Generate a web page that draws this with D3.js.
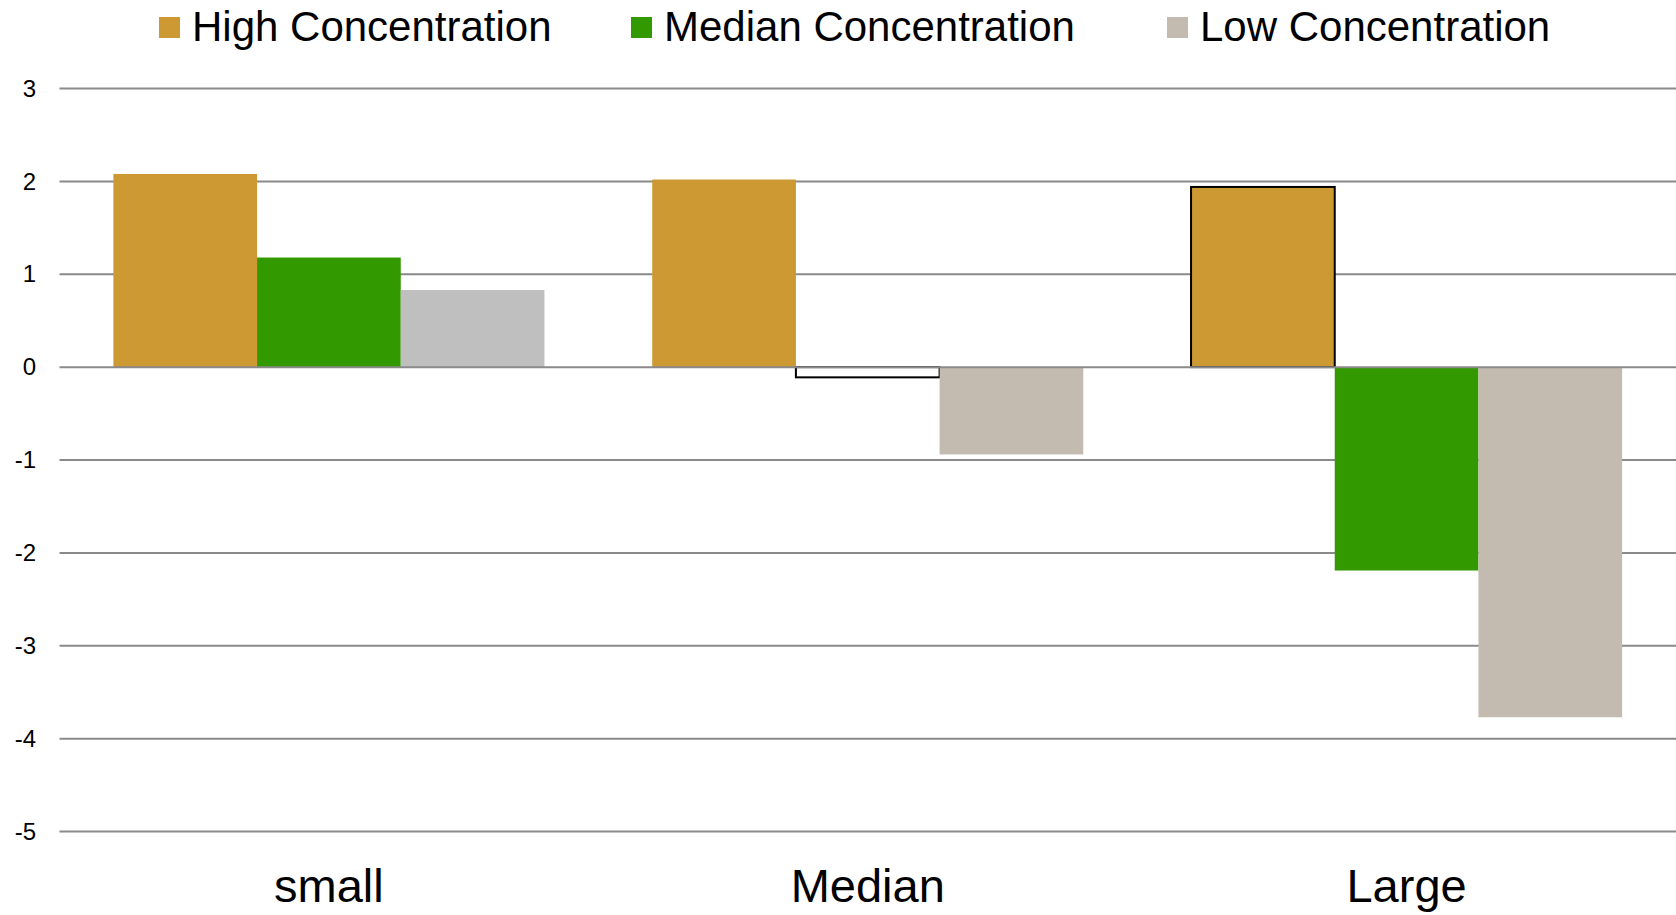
<!DOCTYPE html>
<html>
<head>
<meta charset="utf-8">
<script src="https://cdn.jsdelivr.net/npm/d3@7"></script>
<style>
  html, body { margin: 0; padding: 0; background: #fff; }
  svg { display: block; font-family: "Liberation Sans", Arial, sans-serif; }
</style>
</head>
<body>
<svg id="chart" width="1676" height="915"></svg>
<script>
// ---- data ----
const categories = ["small", "Median", "Large"];
const seriesNames = ["High Concentration", "Median Concentration", "Low Concentration"];
const highValues = [2.08, 2.02, 1.94];
const medianValues = [1.18, -0.11, -2.19];
const lowValues = [0.83, -0.94, -3.77];
const yTicks = [3, 2, 1, 0, -1, -2, -3, -4, -5];

// ---- styles ----
const seriesColors = ["#CC9933", "#339900", "#C4BBB0"];
// per-bar style overrides as seen in the reference  key: "category|series"
const barStyle = {
  "small|Low Concentration": { fill: "#BFBFBF" },
  "Median|Median Concentration": { fill: "#FFFFFF", stroke: "#000", sw: 2 },
  "Large|High Concentration": { stroke: "#000", sw: 2 }
};

const W = 1676, H = 915;
const margin = { left: 59.5, right: 0, top: 88.5, bottom: H - 831.5 };
const svg = d3.select("#chart");

const x0 = d3.scaleBand().domain(categories)
  .range([margin.left, W - margin.right])
  .paddingInner(0.2).paddingOuter(0.1);
const x1 = d3.scaleBand().domain(seriesNames).range([0, x0.bandwidth()]);
const y = d3.scaleLinear().domain([-5, 3]).range([H - margin.bottom, margin.top]);

// gridlines
const grid = svg.append("g").attr("class", "grid");
grid.selectAll("line").data(yTicks.filter(d => d !== 0)).join("line")
  .attr("x1", margin.left).attr("x2", W)
  .attr("y1", d => y(d)).attr("y2", d => y(d))
  .attr("stroke", "#8a8a8a").attr("stroke-width", 2);

// y axis labels (plain hyphen minus as in reference)
const yAxis = d3.axisLeft(y).tickValues(yTicks).tickSize(0).tickPadding(0).tickFormat(d => String(d));
const yG = svg.append("g").attr("transform", "translate(36,0)").call(yAxis);
yG.select(".domain").remove();
yG.selectAll("text").attr("font-size", 24).attr("fill", "#000")
  .attr("font-family", "'Liberation Sans', Arial, sans-serif");

// bars
const rows = categories.map((c, i) => ({
  cat: c,
  vals: [highValues[i], medianValues[i], lowValues[i]].map((v, j) => ({ cat: c, s: seriesNames[j], j, v }))
}));
const groups = svg.append("g").selectAll("g").data(rows).join("g")
  .attr("transform", d => `translate(${x0(d.cat)},0)`);
groups.selectAll("rect").data(d => d.vals).join("rect")
  .attr("x", d => x1(d.s))
  .attr("width", x1.bandwidth())
  .attr("y", d => y(Math.max(0, d.v)))
  .attr("height", d => Math.abs(y(d.v) - y(0)))
  .attr("fill", d => (barStyle[d.cat + "|" + d.s] || {}).fill || seriesColors[d.j])
  .attr("stroke", d => (barStyle[d.cat + "|" + d.s] || {}).stroke || "none")
  .attr("stroke-width", d => (barStyle[d.cat + "|" + d.s] || {}).sw || 0);

// zero line on top
svg.append("line")
  .attr("x1", margin.left).attr("x2", W)
  .attr("y1", y(0)).attr("y2", y(0))
  .attr("stroke", "#8a8a8a").attr("stroke-width", 2);

// x axis labels
const xAxis = d3.axisBottom(x0).tickSize(0).tickPadding(0);
const xG = svg.append("g").attr("transform", "translate(0,869)").call(xAxis);
xG.select(".domain").remove();
xG.selectAll("text").attr("font-size", 47).attr("fill", "#000")
  .attr("font-family", "'Liberation Sans', Arial, sans-serif")
  .attr("dy", "0.71em").attr("y", 0);

// legend
const legendX = [159, 631, 1167];
const leg = svg.append("g").selectAll("g").data(seriesNames).join("g")
  .attr("transform", (d, i) => `translate(${legendX[i]},0)`);
leg.append("rect").attr("x", 0).attr("y", 17).attr("width", 21).attr("height", 21)
  .attr("fill", (d, i) => seriesColors[i]);
leg.append("text").attr("x", 33).attr("y", 41).attr("font-size", 42).attr("fill", "#000")
  .text(d => d);
</script>
</body>
</html>
